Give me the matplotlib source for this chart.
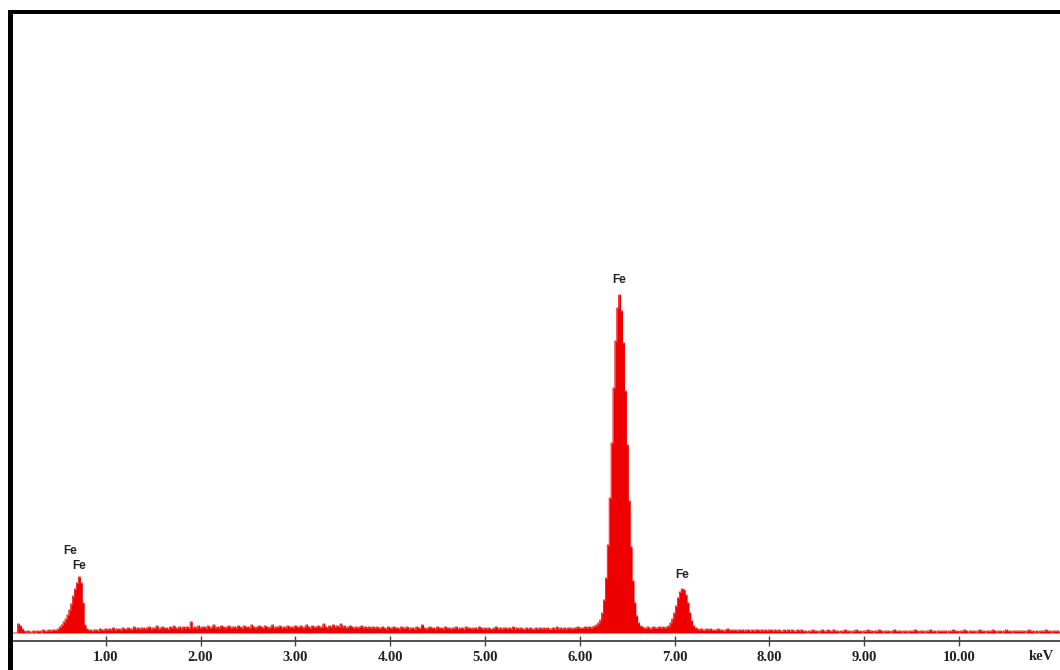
import numpy as np
import matplotlib
matplotlib.use('Agg')
import matplotlib.pyplot as plt
from matplotlib.patches import Rectangle

# canal de 0.02 keV, alturas em unidades arbitrarias
channel_kev = 0.02

counts_low = [0, 0, 0, 0, 9, 7, 4, 2, 1, 2, 1, 1, 2, 1, 2, 2, 1, 3, 2, 2, 3, 2, 3, 3]  # 0.00-0.46

fe_l_peak = [3, 4, 6, 8, 11, 14, 18, 23, 29, 37, 44, 50, 56, 50, 30, 8, 4, 3]  # 0.48-0.82

bg_mid = [  # 0.84-6.22
    3, 2, 3, 3, 2, 4, 3, 3, 4, 3,
    4, 3, 5, 3, 4, 4, 3, 5, 4, 4,
    5, 4, 4, 6, 4, 5, 4, 5, 5, 4,
    5, 6, 4, 5, 5, 7, 4, 5, 6, 5,
    5, 4, 6, 5, 7, 5, 5, 6, 4, 6,
    5, 6, 5, 11, 5, 6, 5, 7, 5, 6,
    6, 5, 7, 5, 6, 8, 5, 6, 5, 7,
    6, 5, 6, 7, 5, 6, 6, 5, 7, 6,
    5, 7, 6, 6, 5, 8, 6, 5, 6, 7,
    6, 5, 7, 6, 5, 6, 8, 5, 6, 6,
    7, 5, 6, 5, 7, 6, 6, 5, 7, 6,
    6, 7, 5, 6, 8, 6, 5, 7, 6, 6,
    7, 6, 6, 9, 6, 5, 7, 6, 8, 6,
    7, 6, 9, 6, 7, 5, 6, 7, 6, 5,
    6, 5, 6, 7, 5, 6, 5, 6, 5, 6,
    5, 6, 5, 5, 6, 5, 4, 6, 5, 5,
    6, 5, 5, 4, 6, 5, 5, 6, 4, 5,
    5, 4, 6, 5, 5, 8, 5, 4, 5, 6,
    5, 5, 4, 6, 5, 5, 4, 6, 5, 5,
    4, 5, 5, 6, 4, 5, 5, 4, 6, 5,
    5, 4, 5, 5, 4, 6, 5, 4, 5, 4,
    5, 4, 4, 5, 6, 4, 5, 4, 5, 5,
    4, 5, 4, 6, 4, 5, 4, 5, 4, 4,
    5, 4, 5, 4, 4, 5, 4, 5, 4, 5,
    4, 5, 4, 4, 5, 4, 6, 4, 5, 4,
    5, 4, 5, 5, 4, 5, 5, 6, 5, 5,
    5, 6, 5, 6, 5, 6, 7, 8, 10, 13,
]

fe_ka_peak = [20, 33, 55, 88, 135, 190, 245, 292, 325, 338, 322,
              290, 242, 188, 132, 86, 52, 30, 17, 10, 7]  # 6.24-6.64

bg_between = [6, 5, 5, 6, 4, 5, 6, 5, 5, 6, 5, 6, 5]  # 6.66-6.90

fe_kb_peak = [6, 7, 10, 14, 20, 27, 35, 41, 44, 43, 38, 30, 20, 12, 7, 5]  # 6.92-7.22

bg_high = [  # 7.24-11.06
    4, 3, 4, 3, 3, 4, 3, 4, 3, 3,
    3, 4, 3, 3, 2, 3, 4, 3, 3, 3,
    3, 2, 3, 3, 3, 2, 3, 3, 2, 3,
    2, 3, 3, 2, 3, 2, 3, 2, 3, 3,
    2, 3, 2, 3, 2, 2, 3, 2, 3, 2,
    3, 2, 2, 3, 2, 3, 2, 2, 1, 2,
    2, 3, 2, 2, 1, 2, 3, 2, 2, 3,
    2, 2, 3, 2, 2, 1, 2, 2, 3, 2,
    2, 1, 2, 2, 3, 2, 2, 1, 2, 2,
    3, 2, 2, 1, 2, 2, 3, 2, 1, 2,
    2, 2, 1, 2, 3, 2, 2, 2, 1, 2,
    2, 1, 2, 2, 2, 3, 2, 1, 2, 2,
    1, 2, 2, 3, 2, 2, 1, 2, 2, 2,
    2, 2, 1, 2, 2, 3, 2, 2, 1, 2,
    2, 3, 2, 1, 2, 2, 2, 1, 2, 3,
    2, 2, 1, 2, 2, 2, 3, 2, 1, 2,
    2, 1, 2, 3, 2, 2, 1, 2, 2, 2,
    2, 2, 2, 1, 2, 3, 2, 2, 1, 2,
    1, 2, 2, 2, 3, 2, 2, 1, 2, 2,
    2, 1,
]

tick_kev = [1, 2, 3, 4, 5, 6, 7, 8, 9, 10]
tick_labels = ['1.00', '2.00', '3.00', '4.00', '5.00', '6.00', '7.00', '8.00', '9.00', '10.00']

# rotulos dos picos: (energia, altura, texto)
peak_labels = [(0.62, 76, 'Fe'), (0.72, 61, 'Fe'), (6.42, 347, 'Fe'), (7.08, 52, 'Fe')]

counts = np.array(counts_low + fe_l_peak + bg_mid + fe_ka_peak + bg_between + fe_kb_peak + bg_high)
energy = np.arange(len(counts)) * channel_kev

W, H = 1060, 670
fig = plt.figure(figsize=(W / 100, H / 100), dpi=100)
fig.patch.set_facecolor('white')

# area do grafico em pixels: x=11 (0 keV) ate a borda direita, y=12 ate o eixo em y=641
ax = fig.add_axes([11 / W, (H - 641) / H, 1 - 11 / W, (641 - 12) / H])
px_per_kev = 94.8
ax.set_xlim(0, (W - 11) / px_per_kev)
ax.set_ylim(-8, 621)

red = '#ee0000'
ax.fill_between(energy, counts, 0, step='mid', color=red, linewidth=0)
ax.step(energy, counts, where='mid', color=red, linewidth=0.6)

for e, h, txt in peak_labels:
    ax.text(e, h, txt, ha='center', va='bottom', fontsize=8.5, fontweight='bold',
            family='Liberation Sans', color='#222222')

for side in ['top', 'right', 'left']:
    ax.spines[side].set_visible(False)
ax.spines['bottom'].set_color('#444444')
ax.spines['bottom'].set_linewidth(1.3)
ax.set_yticks([])
ax.set_xticks(tick_kev)
ax.set_xticklabels(tick_labels, fontsize=10.5, fontweight='bold', family='Liberation Serif',
                   color='#222222')
ax.tick_params(axis='x', direction='inout', length=7, width=1, color='#444444', pad=4)
ax.text(10.74, -17, 'keV', ha='left', va='top', fontsize=10.5,
        fontweight='bold', family='Liberation Serif', color='#222222', clip_on=False)

# moldura preta (esquerda e topo)
fig.add_artist(Rectangle((8 / W, 0), 5 / W, (H - 10) / H, transform=fig.transFigure,
                         color='black', lw=0))
fig.add_artist(Rectangle((8 / W, (H - 14) / H), 1, 4 / H, transform=fig.transFigure,
                         color='black', lw=0))

plt.savefig('out.png', dpi=100)
plt.close(fig)
